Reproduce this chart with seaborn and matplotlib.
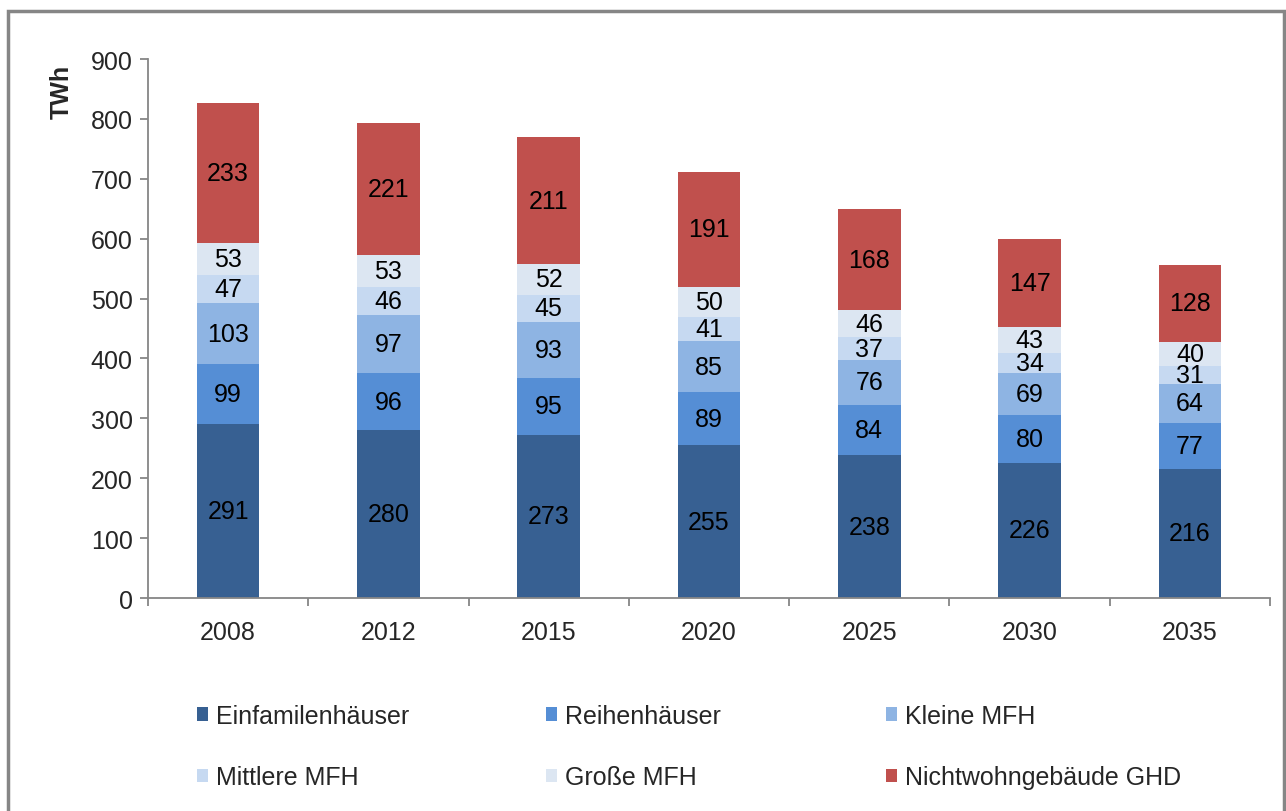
import numpy as np
import pandas as pd
import seaborn as sns
import matplotlib.pyplot as plt
from matplotlib.patches import Patch, Rectangle

years = ["2008", "2012", "2015", "2020", "2025", "2030", "2035"]
series_names = ["Einfamilenhäuser", "Reihenhäuser", "Kleine MFH",
                "Mittlere MFH", "Große MFH", "Nichtwohngebäude GHD"]
einfamilien = [291, 280, 273, 255, 238, 226, 216]
reihen = [99, 96, 95, 89, 84, 80, 77]
kleine_mfh = [103, 97, 93, 85, 76, 69, 64]
mittlere_mfh = [47, 46, 45, 41, 37, 34, 31]
grosse_mfh = [53, 53, 52, 50, 46, 43, 40]
nichtwohn = [233, 221, 211, 191, 168, 147, 128]
colors = ["#376092", "#558ED5", "#8EB4E3", "#C6D9F1", "#DCE6F2", "#C0504D"]

values = [einfamilien, reihen, kleine_mfh, mittlere_mfh, grosse_mfh, nichtwohn]

sns.set_style("white")
plt.rcParams['font.family'] = ['Liberation Sans', 'DejaVu Sans']
FS = 18

fig = plt.figure(figsize=(12.86, 8.12), dpi=100)
ax = fig.add_axes([0.1151, 0.2623, 0.8725, 0.6638])

bottom = np.zeros(len(years))
for name, vals, c in zip(series_names, values, colors):
    df = pd.DataFrame({"year": years, "val": vals})
    sns.barplot(data=df, x="year", y="val", bottom=bottom, color=c,
                width=0.39, ax=ax, errorbar=None, saturation=1, linewidth=0)
    for i, v in enumerate(vals):
        ax.text(i, bottom[i] + v / 2, str(v), ha="center", va="center",
                fontsize=FS, color="black")
    bottom = bottom + np.array(vals)

ax.set_xlim(-0.5, len(years) - 0.5)
ax.set_ylim(0, 900)
ax.set_yticks(np.arange(0, 901, 100))
ax.set_xlabel("")
ax.set_ylabel("TWh", fontsize=FS, fontweight="bold")
ax.yaxis.set_label_coords(-0.066, 0.94)

for s in ["top", "right"]:
    ax.spines[s].set_visible(False)
for s in ["left", "bottom"]:
    ax.spines[s].set_color("#868686")
    ax.spines[s].set_linewidth(1.3)

ax.tick_params(axis="y", left=True, length=6, color="#868686", width=1.3,
               labelsize=FS, pad=5)
ax.tick_params(axis="x", bottom=False, labelsize=FS, pad=12)
ax.set_xticks(np.arange(-0.5, len(years), 1.0), minor=True)
ax.tick_params(axis="x", which="minor", bottom=True, length=6,
               color="#868686", width=1.3)

# figure frame
fig.patches.append(Rectangle((8 / 1286, -0.01), (1284 - 8) / 1286, 1 - 12 / 812 + 0.01,
                             transform=fig.transFigure, fill=False,
                             edgecolor="#868686", linewidth=2.5))

# legend in three columns of two rows
col_x = [197, 546, 886]
for k in range(3):
    handles = [Patch(facecolor=colors[k], linewidth=0),
               Patch(facecolor=colors[k + 3], linewidth=0)]
    labels = [series_names[k], series_names[k + 3]]
    fig.legend(handles, labels, loc="upper left",
               bbox_to_anchor=(col_x[k] / 1286, 1 - 705 / 812),
               frameon=False, fontsize=FS, handlelength=0.45, handleheight=0.45,
               handletextpad=0.3, labelspacing=1.5, borderaxespad=0,
               borderpad=0)

fig.savefig("out.png", dpi=100)
